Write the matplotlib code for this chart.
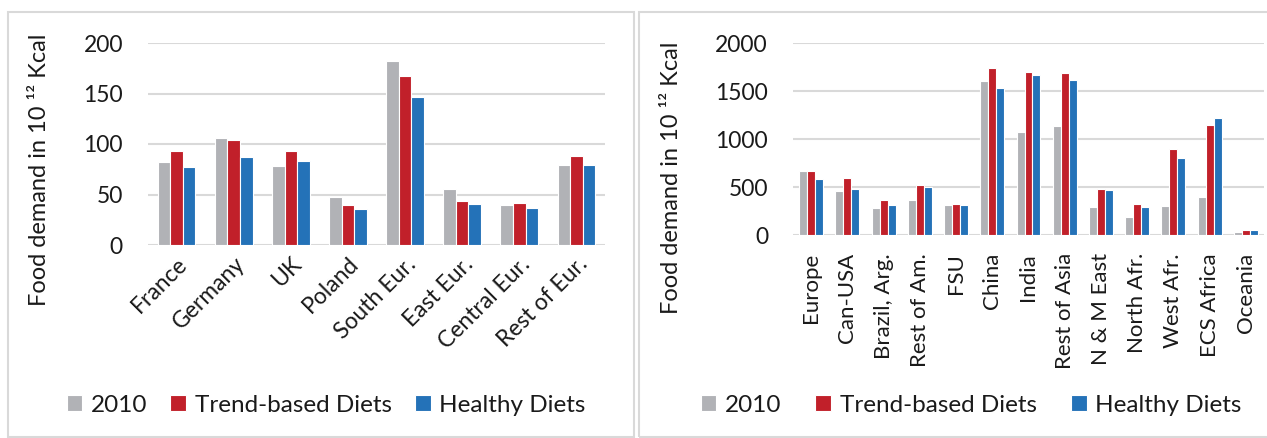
import numpy as np
import matplotlib
matplotlib.use("Agg")
from matplotlib import pyplot as plt
from matplotlib.patches import Rectangle

plt.rcParams['font.family'] = ['Lato', 'DejaVu Sans']

# europe panel
eu_regions = ["France", "Germany", "UK", "Poland", "South Eur.", "East Eur.", "Central Eur.", "Rest of Eur."]
eu_2010 = [82, 106, 78, 48, 182, 55, 40, 79]
eu_trend = [93, 104, 93, 40, 167, 44, 42, 88]
eu_healthy = [77, 87, 83, 36, 147, 41, 37, 79]

# world panel
w_regions = ["Europe", "Can-USA", "Brazil, Arg.", "Rest of Am.", "FSU", "China", "India",
             "Rest of Asia", "N & M East", "North Afr.", "West Afr.", "ECS Africa", "Oceania"]
w_2010 = [668, 460, 277, 363, 315, 1609, 1076, 1138, 294, 190, 298, 394, 35]
w_trend = [668, 595, 363, 522, 325, 1744, 1699, 1685, 484, 322, 900, 1145, 55]
w_healthy = [585, 474, 315, 498, 315, 1529, 1664, 1616, 467, 294, 803, 1218, 48]

series_names = ["2010", "Trend-based Diets", "Healthy Diets"]
colors = ["#B1B2B6", "#C1202A", "#2472B8"]
txt = "#1a1a1a"

W, H = 1267, 438
fig = plt.figure(figsize=(W / 100, H / 100), dpi=100)

# panel frames (pixel coords -> figure fraction)
for x0, x1 in [(8, 634), (639, 1275)]:
    fig.patches.append(Rectangle((x0 / W, 1 - 437 / H), (x1 - x0) / W, (437 - 12) / H,
                                 transform=fig.transFigure, fill=False, ec="#D9D9D9", lw=1.5))

ylabel = "Food demand in 10 ¹² Kcal"


def panel(rect, cats, data, ymax, step, rot, lab_x, lab_y, pad, xsize):
    ax = fig.add_axes(rect)
    x = np.arange(len(cats))
    for i, (vals, c) in enumerate(zip(data, colors)):
        ax.bar(x + (i - 1) * 0.22, vals, width=0.22, color=c, edgecolor="white", linewidth=0.8,
               label=series_names[i], zorder=3)
    ax.set_xlim(-0.5, len(cats) - 0.5)
    ax.set_ylim(0, ymax)
    ax.set_yticks(np.arange(0, ymax + 1, step))
    ax.yaxis.grid(True, color="#D9D9D9", lw=1.5, zorder=0)
    for s in ax.spines.values():
        s.set_visible(False)
    ax.tick_params(axis="y", length=0, labelsize=16.5, pad=18, labelcolor=txt)
    ax.tick_params(axis="x", length=0, labelsize=xsize, pad=pad, labelcolor=txt)
    ax.set_xticks(x)
    if rot == 90:
        ax.set_xticklabels(cats, rotation=90, ha="center", va="top")
    else:
        ax.set_xticklabels(cats, rotation=rot, ha="right", va="top", rotation_mode="anchor")
    fig.text(lab_x, lab_y, ylabel, rotation=90, ha="center", va="center", fontsize=17, color=txt)
    return ax


ax1 = panel([148 / W, 1 - 245 / H, 457 / W, 202 / H], eu_regions, [eu_2010, eu_trend, eu_healthy],
            200, 50, 45, 40 / W, 1 - 170 / H, 6, 16.5)
ax2 = panel([793 / W, 1 - 235 / H, 471 / W, 192 / H], w_regions, [w_2010, w_trend, w_healthy],
            2000, 500, 90, 672 / W, 1 - 178 / H, 13, 16)

for ax, cx, cs in [(ax1, 326 / W, 0.95), (ax2, 971 / W, 1.4)]:
    h, l = ax.get_legend_handles_labels()
    fig.legend(h, l, loc="center", bbox_to_anchor=(cx, 1 - 405 / H), ncol=3, frameon=False,
               fontsize=17.5, handlelength=0.65, handleheight=0.65, handletextpad=0.35,
               columnspacing=cs, labelcolor=txt)

fig.savefig("out.png", dpi=100)
